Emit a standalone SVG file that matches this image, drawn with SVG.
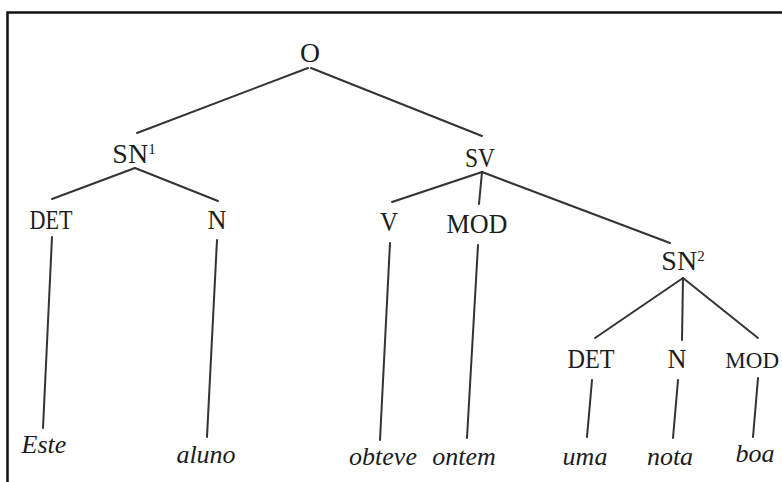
<svg xmlns="http://www.w3.org/2000/svg" width="782" height="482" viewBox="0 0 782 482">
<style>
.lbl{font-family:"Liberation Serif","Times New Roman",serif;font-size:28px;fill:#1c1c1c;text-anchor:middle}
.sup{font-size:15px}
.leaf{font-family:"Liberation Serif","Times New Roman",serif;font-size:26px;font-style:italic;fill:#1c1c1c;text-anchor:middle}
.edge{stroke:#333333;stroke-width:2;fill:none;stroke-linecap:round}
.frame{stroke:#111;stroke-width:2.5;fill:none}
</style>
<rect x="0" y="0" width="782" height="482" fill="#ffffff"/>
<g id="frame">
<path class="frame" d="M7.5,482 V12.5 H782"/>
</g>
<g id="connectors">
<line class="edge" x1="308" y1="68" x2="137" y2="133"/>
<line class="edge" x1="311" y1="68" x2="482" y2="136"/>
<line class="edge" x1="135" y1="168" x2="52" y2="199"/>
<line class="edge" x1="135" y1="168" x2="218" y2="201"/>
<line class="edge" x1="482" y1="172" x2="392" y2="202"/>
<line class="edge" x1="482" y1="172" x2="479" y2="204"/>
<line class="edge" x1="482" y1="172" x2="670" y2="243"/>
<line class="edge" x1="683" y1="278" x2="595" y2="338"/>
<line class="edge" x1="683" y1="278" x2="682" y2="340"/>
<line class="edge" x1="683" y1="278" x2="758" y2="338"/>
<line class="edge" x1="52" y1="237" x2="43" y2="428"/>
<line class="edge" x1="217" y1="240" x2="207" y2="437"/>
<line class="edge" x1="390" y1="243" x2="380" y2="440"/>
<line class="edge" x1="478" y1="245" x2="467" y2="438"/>
<line class="edge" x1="592" y1="380" x2="587" y2="437"/>
<line class="edge" x1="678" y1="380" x2="673" y2="438"/>
<line class="edge" x1="758" y1="378" x2="753" y2="437"/>
</g>
<g id="node-O"><text class="lbl" x="310" y="62" textLength="20" lengthAdjust="spacingAndGlyphs">O</text></g>
<g id="node-SN1"><text class="lbl" x="134" y="163">SN<tspan class="sup" dy="-9">1</tspan></text></g>
<g id="node-SV"><text class="lbl" x="480" y="167" textLength="30" lengthAdjust="spacingAndGlyphs">SV</text></g>
<g id="node-DET1"><text class="lbl" x="51" y="229" textLength="43" lengthAdjust="spacingAndGlyphs">DET</text></g>
<g id="node-N1"><text class="lbl" x="217" y="229" textLength="19" lengthAdjust="spacingAndGlyphs">N</text></g>
<g id="node-V"><text class="lbl" x="389" y="231" textLength="18" lengthAdjust="spacingAndGlyphs">V</text></g>
<g id="node-MOD1"><text class="lbl" x="477" y="233" textLength="61" lengthAdjust="spacingAndGlyphs">MOD</text></g>
<g id="node-SN2"><text class="lbl" x="683" y="270">SN<tspan class="sup" dy="-9">2</tspan></text></g>
<g id="node-DET2"><text class="lbl" x="591" y="368" textLength="47" lengthAdjust="spacingAndGlyphs">DET</text></g>
<g id="node-N2"><text class="lbl" x="677" y="368" textLength="19" lengthAdjust="spacingAndGlyphs">N</text></g>
<g id="node-MOD2"><text class="lbl" x="779" y="368" style="text-anchor:end;font-size:23px">MOD</text></g>
<g id="leaf-Este"><text class="leaf" x="44" y="453">Este</text></g>
<g id="leaf-aluno"><text class="leaf" x="206" y="463">aluno</text></g>
<g id="leaf-obteve"><text class="leaf" x="383" y="465">obteve</text></g>
<g id="leaf-ontem"><text class="leaf" x="464" y="465">ontem</text></g>
<g id="leaf-uma"><text class="leaf" x="585" y="465">uma</text></g>
<g id="leaf-nota"><text class="leaf" x="670" y="465">nota</text></g>
<g id="leaf-boa"><text class="leaf" x="755" y="462">boa</text></g>
</svg>
